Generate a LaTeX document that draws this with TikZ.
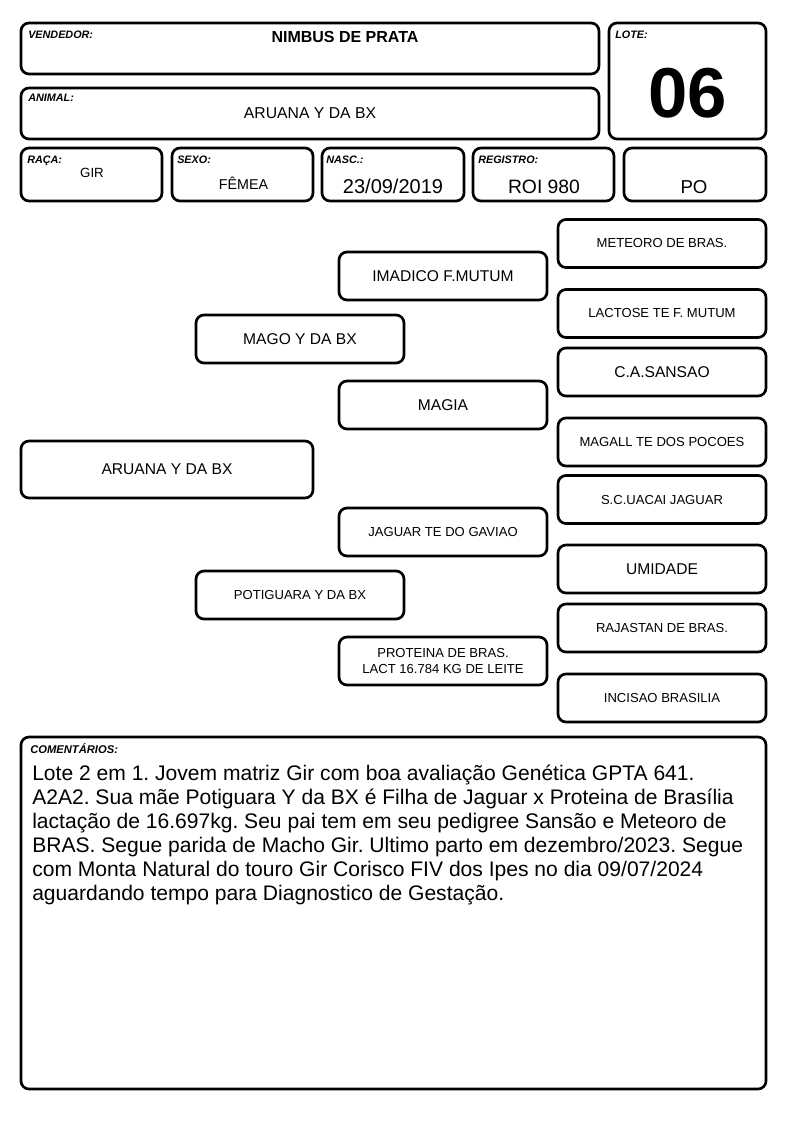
\documentclass[tikz,border=0pt]{standalone}
\usepackage{fontspec}
\setmainfont{Liberation Sans}
\frenchspacing
\begin{document}
\begin{tikzpicture}[x=0.75pt,y=-0.75pt, line join=round, line cap=round,
	box/.style={draw, line width=2pt, rounded corners=6pt, inner sep=0pt},
	wh/.style 2 args={minimum width=#1*0.75pt, minimum height=#2*0.75pt},
	tag/.style={anchor=base west, inner sep=0pt, font=\fontsize{8.1}{9}\selectfont\bfseries\itshape},
	val/.style={anchor=base, inner sep=0pt},
	ped/.style={box, wh={208}{48}, align=center, font=\fontsize{9.8}{12}\selectfont},
	pedL/.style={ped, font=\fontsize{11.7}{14}\selectfont}]
	\useasboundingbox (0,0) rectangle (794,1123);
	% cabecalho
	\node[box, wh={578}{51}] (vend) at (310,48.5) {};
	\node[box, wh={578}{51}] (anim) at (310,113.5) {};
	\node[box, wh={157}{116}] (lote) at (687.5,81) {};
	\node[box, wh={141}{53}] (raca) at (91.5,174.5) {};
	\node[box, wh={141}{53}] (sexo) at (242.5,174.5) {};
	\node[box, wh={142}{53}] (nasc) at (393,174.5) {};
	\node[box, wh={141}{53}] (regi) at (543.5,174.5) {};
	\node[box, wh={142}{53}] (tipo) at (695,174.5) {};
	\node[tag] (tvend) at (28,39) {VENDEDOR:};
	\node[tag] (tanim) at (28,102) {ANIMAL:};
	\node[tag] (tlote) at (615,39) {LOTE:};
	\node[tag] (traca) at (27,164) {RAÇA:};
	\node[tag] (tsexo) at (177,164) {SEXO:};
	\node[tag] (tnasc) at (326,164) {NASC.:};
	\node[tag] (tregi) at (478,164) {REGISTRO:};
	\node[val, font=\fontsize{12}{14}\selectfont\bfseries] (vvend) at (345,43) {NIMBUS DE PRATA};
	\node[val, font=\fontsize{11.8}{14}\selectfont] (vanim) at (310,119) {ARUANA Y DA BX};
	\node[val, font=\fontsize{53}{60}\selectfont\bfseries] (vlote) at (687.5,118) {06};
	\node[val, font=\fontsize{10}{12}\selectfont] (vraca) at (92,178) {GIR};
	\node[val, font=\fontsize{10.7}{12}\selectfont] (vsexo) at (243.5,190) {FÊMEA};
	\node[val, font=\fontsize{15}{18}\selectfont] (vnasc) at (393,194) {23/09/2019};
	\node[val, font=\fontsize{14.5}{18}\selectfont] (vregi) at (544,194) {ROI 980};
	\node[val, font=\fontsize{14}{18}\selectfont] (vtipo) at (694,194) {PO};
	% genealogia
	\node[pedL, wh={292}{57}] (animal) at (167,469.5) {ARUANA Y DA BX};
	\node[pedL] (pai) at (300,339) {MAGO Y DA BX};
	\node[ped] (mae) at (300,595) {POTIGUARA Y DA BX};
	\node[pedL] (avoPP) at (443,276) {IMADICO F.MUTUM};
	\node[pedL] (avoPM) at (443,405) {MAGIA};
	\node[ped] (avoMP) at (443,532) {JAGUAR TE DO GAVIAO};
	\node[ped] (avoMM) at (443,661) {PROTEINA DE BRAS.\\LACT 16.784 KG DE LEITE};
	\node[ped] (bis1) at (662,243.5) {METEORO DE BRAS.};
	\node[ped] (bis2) at (662,313.5) {LACTOSE TE F. MUTUM};
	\node[pedL] (bis3) at (662,372) {C.A.SANSAO};
	\node[ped] (bis4) at (662,442) {MAGALL TE DOS POCOES};
	\node[ped] (bis5) at (662,499.5) {S.C.UACAI JAGUAR};
	\node[pedL] (bis6) at (662,569) {UMIDADE};
	\node[ped] (bis7) at (662,628) {RAJASTAN DE BRAS.};
	\node[ped] (bis8) at (662,698) {INCISAO BRASILIA};
	% comentarios
	\node[box, wh={745}{352}] (coment) at (393.5,913) {};
	\node[tag, font=\fontsize{8.4}{9}\selectfont\bfseries\itshape] (tcoment) at (30,753) {COMENTÁRIOS:};
	\node[anchor=north west, inner sep=0pt, align=left, font=\fontsize{15.8}{18}\selectfont] (comtext) at (32,765) {Lote 2 em 1. Jovem matriz Gir com boa avaliação Genética GPTA 641.\\
		A2A2. Sua mãe Potiguara Y da BX é Filha de Jaguar x Proteina de Brasília\\
		lactação de 16.697kg. Seu pai tem em seu pedigree Sansão e Meteoro de\\
		BRAS. Segue parida de Macho Gir. Ultimo parto em dezembro/2023. Segue\\
		com Monta Natural do touro Gir Corisco FIV dos Ipes no dia 09/07/2024\\
		aguardando tempo para Diagnostico de Gestação.};
\end{tikzpicture}
\end{document}
